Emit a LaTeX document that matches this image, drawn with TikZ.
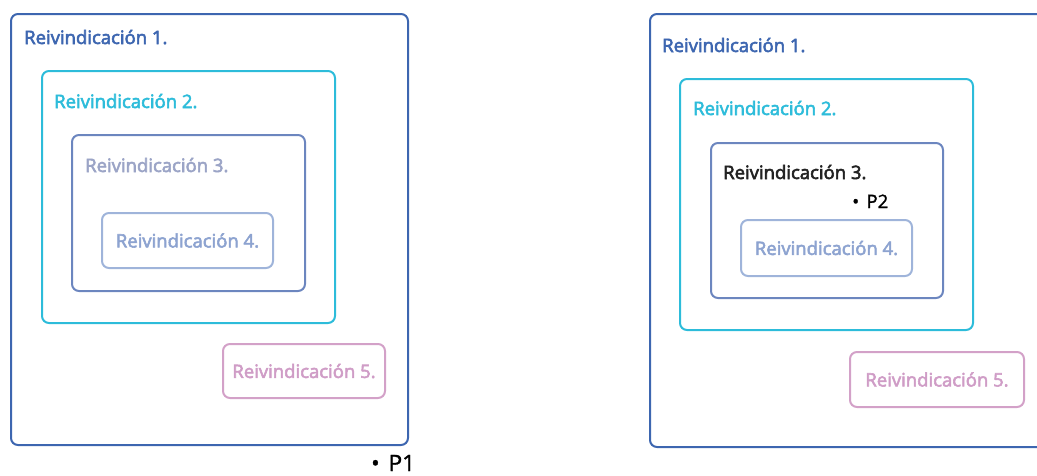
\documentclass[tikz,border=0pt]{standalone}
\usepackage{fontspec}
\setmainfont{Open Sans}[FakeBold=3]
\newfontfamily\pointfont{Open Sans}[FakeBold=1.5]
\definecolor{claimA}{HTML}{3D66B0}
\definecolor{claimB}{HTML}{2DBCDA}
\definecolor{claimC}{HTML}{6C86BF}
\definecolor{claimCtext}{HTML}{9BA4C6}
\definecolor{claimD}{HTML}{9FB4DA}
\definecolor{claimDtext}{HTML}{8DA3D0}
\definecolor{claimE}{HTML}{D3A1C8}
\definecolor{claimEtext}{HTML}{CF9CC6}
\definecolor{inktext}{HTML}{222222}
\newcommand{\claimfont}{\fontsize{18.5}{20}\selectfont}
\tikzset{
  claimbox/.style={draw, line width=2pt, rounded corners=7pt, inner sep=0pt, outer sep=0pt},
  boxA/.style={claimbox, draw=claimA},
  boxB/.style={claimbox, draw=claimB},
  boxC/.style={claimbox, draw=claimC},
  boxD/.style={claimbox, draw=claimD, text=claimDtext, font=\claimfont},
  boxE/.style={claimbox, draw=claimE, text=claimEtext, font=\claimfont},
  claimlabel/.style={anchor=base west, inner sep=0pt, font=\claimfont},
  pointlabel/.style={anchor=base west, inner sep=0pt, text=black, font=\pointfont},
}
\begin{document}
\begin{tikzpicture}[x=1pt, y=-1pt]
\useasboundingbox (0,0) rectangle (1037,475);
\clip (0,0) rectangle (1037,475);

% first arrangement: point P1 outside every claim
\node[boxA, minimum width=397pt, minimum height=431pt] (L1) at (209.5,229.5) {};
\node[boxB, minimum width=293pt, minimum height=252pt] (L2) at (188.5,197) {};
\node[boxC, minimum width=233pt, minimum height=156pt] (L3) at (188.5,213) {};
\node[boxD, minimum width=171pt, minimum height=55pt] (L4) at (187.5,240.5) {Reivindicación 4.};
\node[boxE, minimum width=162pt, minimum height=54pt] (L5) at (304,371) {Reivindicación 5.};
\node[claimlabel, text=claimA] (L1t) at (24,44) {Reivindicación 1.};
\node[claimlabel, text=claimB] (L2t) at (54,108) {Reivindicación 2.};
\node[claimlabel, text=claimCtext] (L3t) at (85,172) {Reivindicación 3.};
\node[pointlabel, font=\pointfont\fontsize{22.5}{24}\selectfont] (P1) at (371,471) {•\hspace{0.4em}P1};

% second arrangement: point P2 inside claim 3
\node[boxA, minimum width=397pt, minimum height=433pt] (R1) at (848.5,230.5) {};
\node[boxB, minimum width=293pt, minimum height=251pt] (R2) at (826.5,204.5) {};
\node[boxC, minimum width=232pt, minimum height=155pt] (R3) at (827,220.5) {};
\node[boxD, minimum width=171pt, minimum height=56pt] (R4) at (826.5,248) {Reivindicación 4.};
\node[boxE, minimum width=174pt, minimum height=55pt] (R5) at (937,379.5) {Reivindicación 5.};
\node[claimlabel, text=claimA] (R1t) at (662,52) {Reivindicación 1.};
\node[claimlabel, text=claimB] (R2t) at (693,115) {Reivindicación 2.};
\node[claimlabel, text=inktext] (R3t) at (723,179) {Reivindicación 3.};
\node[pointlabel, font=\pointfont\fontsize{18.5}{20}\selectfont] (P2) at (852,208) {•\hspace{0.4em}P2};
\end{tikzpicture}
\end{document}
